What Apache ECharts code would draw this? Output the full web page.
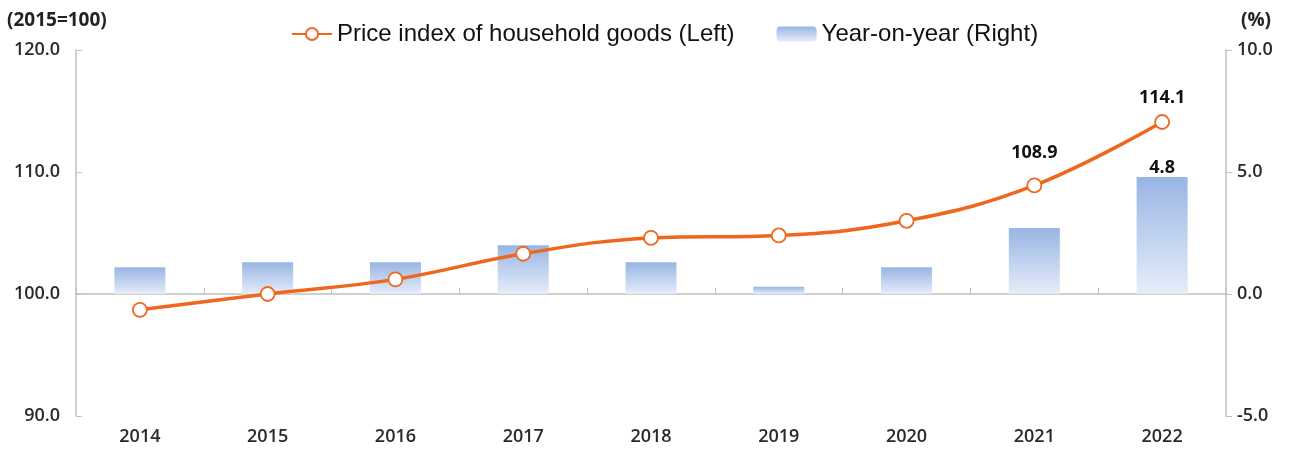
<!DOCTYPE html>
<html>
<head>
<meta charset="utf-8">
<script src="https://cdn.jsdelivr.net/npm/echarts@6/dist/echarts.min.js"></script>
<style>
html,body{margin:0;padding:0;background:#fff;}
#chart{width:1291px;height:450px;}
</style>
</head>
<body>
<div id="chart"></div>
<script>
const years = ['2014','2015','2016','2017','2018','2019','2020','2021','2022'];
const priceIndex = [98.7, 100.0, 101.2, 103.3, 104.6, 104.8, 106.0, 108.9, 114.1];
const yoy = [1.1, 1.3, 1.3, 2.0, 1.3, 0.3, 1.1, 2.7, 4.8];
const leftTicks = {min: 90, max: 120, interval: 10};
const rightTicks = {min: -5, max: 10, interval: 5};
const lineName = 'Price index of household goods (Left)';
const barName = 'Year-on-year (Right)';

const labelFont = {fontFamily: 'Noto Sans', fontSize: 18, fontWeight: 'bold', color: '#111'};
const tickFont = {fontFamily: 'Open Sans', fontSize: 18, fontWeight: 600, color: '#2a2a2a'};
const axisGray = '#c0c0c0';

const lineLabelDist = {7: 16, 8: 7};
const lineData = priceIndex.map((v, i) => lineLabelDist[i] !== undefined
  ? {value: v, label: Object.assign({show: true, position: 'top', distance: lineLabelDist[i], formatter: '{c}'}, labelFont)}
  : v);
const barData = yoy.map((v, i) => i === yoy.length - 1
  ? {value: v, label: Object.assign({show: true, position: 'top', distance: 0, formatter: p => p.value.toFixed(1)}, labelFont)}
  : v);

const chart = echarts.init(document.getElementById('chart'));
chart.setOption({
  animation: false,
  grid: {left: 76, right: 65, top: 50, bottom: 34},
  legend: {
    top: 17,
    left: 286,
    itemWidth: 40,
    itemHeight: 15,
    itemGap: 42,
    textStyle: {fontFamily: 'Liberation Sans', fontSize: 24, color: '#111'},
    data: [lineName, barName]
  },
  graphic: [
    {type: 'text', left: 7, top: 11, style: {text: '(2015=100)', font: 'bold 19px "Open Sans"', fill: '#222'}},
    {type: 'text', left: 1241, top: 11, style: {text: '(%)', font: 'bold 19px "Open Sans"', fill: '#222'}}
  ],
  xAxis: [
    {
      type: 'category', data: years, position: 'bottom', boundaryGap: true,
      axisLine: {show: false}, axisTick: {show: false},
      axisLabel: Object.assign({margin: 12}, tickFont)
    },
    {
      type: 'category', data: years, position: 'bottom', boundaryGap: true,
      axisLine: {show: true, onZero: true, onZeroAxisIndex: 1, lineStyle: {color: axisGray, width: 1.5}},
      axisTick: {show: true, inside: true, length: 6, lineStyle: {color: axisGray}},
      axisLabel: {show: false}
    }
  ],
  yAxis: [
    {
      type: 'value', min: leftTicks.min, max: leftTicks.max, interval: leftTicks.interval,
      axisLine: {show: true, lineStyle: {color: axisGray, width: 1.5}},
      axisTick: {show: true, inside: true, length: 6, lineStyle: {color: axisGray}},
      splitLine: {show: false},
      axisLabel: Object.assign({margin: 16, formatter: v => v.toFixed(1)}, tickFont)
    },
    {
      type: 'value', min: rightTicks.min, max: rightTicks.max, interval: rightTicks.interval, position: 'right',
      axisLine: {show: true, lineStyle: {color: axisGray, width: 1.5}},
      axisTick: {show: true, inside: false, length: 6, lineStyle: {color: axisGray}},
      splitLine: {show: false},
      axisLabel: Object.assign({margin: 11, formatter: v => v.toFixed(1)}, tickFont)
    }
  ],
  series: [
    {
      name: barName, type: 'bar', xAxisIndex: 0, yAxisIndex: 1, barWidth: 51, z: 2,
      itemStyle: {
        color: new echarts.graphic.LinearGradient(0, 0, 0, 1, [
          {offset: 0, color: '#98b5e4'},
          {offset: 1, color: '#e6edf9'}
        ])
      },
      data: barData
    },
    {
      name: lineName, type: 'line', xAxisIndex: 0, yAxisIndex: 0, smooth: 0.4, z: 5,
      symbol: 'circle', symbolSize: 14,
      lineStyle: {color: '#ef661d', width: 3.5},
      itemStyle: {color: '#ffffff', borderColor: '#ec6a22', borderWidth: 1.8},
      data: lineData
    }
  ]
});
</script>
</body>
</html>
